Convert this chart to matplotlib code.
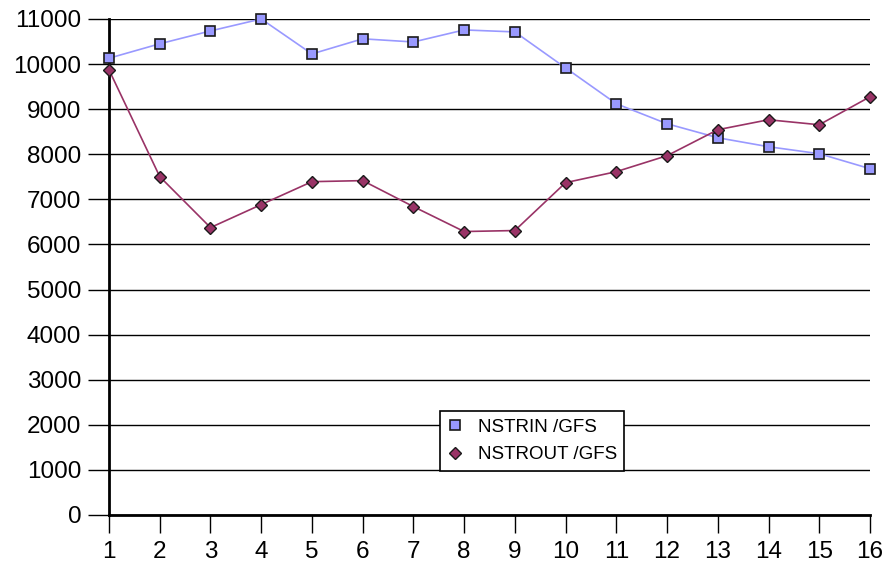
import matplotlib
matplotlib.use("Agg")
import matplotlib.pyplot as plt

plt.rcParams['font.family'] = ['Liberation Sans', 'DejaVu Sans']

x = list(range(1, 17))
nstrin = [10130, 10450, 10735, 11000, 10225, 10560, 10490, 10757,
          10713, 9915, 9120, 8676, 8366, 8167, 8012, 7680]
nstrout = [9870, 7503, 6374, 6884, 7392, 7415, 6839, 6286,
           6308, 7370, 7614, 7968, 8544, 8765, 8654, 9274]
yticks = list(range(0, 11001, 1000))

fig = plt.figure(figsize=(8.93, 5.63), dpi=100)
ax = fig.add_axes([0.1221, 0.0853, 0.9742 - 0.1221, 0.9663 - 0.0853])

ax.plot(x, nstrin, color='#9999FF', lw=1.2, marker='s', ms=7.5,
        mfc='#9999FF', mec='#1a1a1a', mew=1.2, label='NSTRIN /GFS',
        zorder=3, clip_on=False)
ax.plot(x, nstrout, color='#993366', lw=1.2, marker='D', ms=6,
        mfc='#993366', mec='#1a1a1a', mew=1.0, label='NSTROUT /GFS',
        zorder=3, clip_on=False)

ax.set_xlim(1, 16)
ax.set_ylim(0, 11000)
ax.set_xticks(x)
ax.set_yticks(yticks)
ax.yaxis.grid(True, color='black', lw=1.0)
ax.set_axisbelow(True)

for side in ['top', 'right']:
    ax.spines[side].set_visible(False)
for side in ['left', 'bottom']:
    ax.spines[side].set_linewidth(2)
    ax.spines[side].set_color('black')

ax.tick_params(axis='y', length=15, width=1, labelsize=17.5, pad=5, direction='out')
ax.tick_params(axis='x', length=13, width=1, labelsize=17.5, pad=6, direction='out')

leg = ax.legend(loc='upper left', bbox_to_anchor=(440 / 893, 1 - 411 / 563),
                bbox_transform=fig.transFigure,
                frameon=True, fancybox=False, edgecolor='black',
                fontsize=13.5, handlelength=0.8, handletextpad=0.8,
                borderpad=0.4, borderaxespad=0, labelspacing=0.55,
                framealpha=1)
leg.get_frame().set_linewidth(1.2)
for h in leg.legend_handles:
    h.set_linestyle('None')

fig.savefig('out.png', dpi=100)
